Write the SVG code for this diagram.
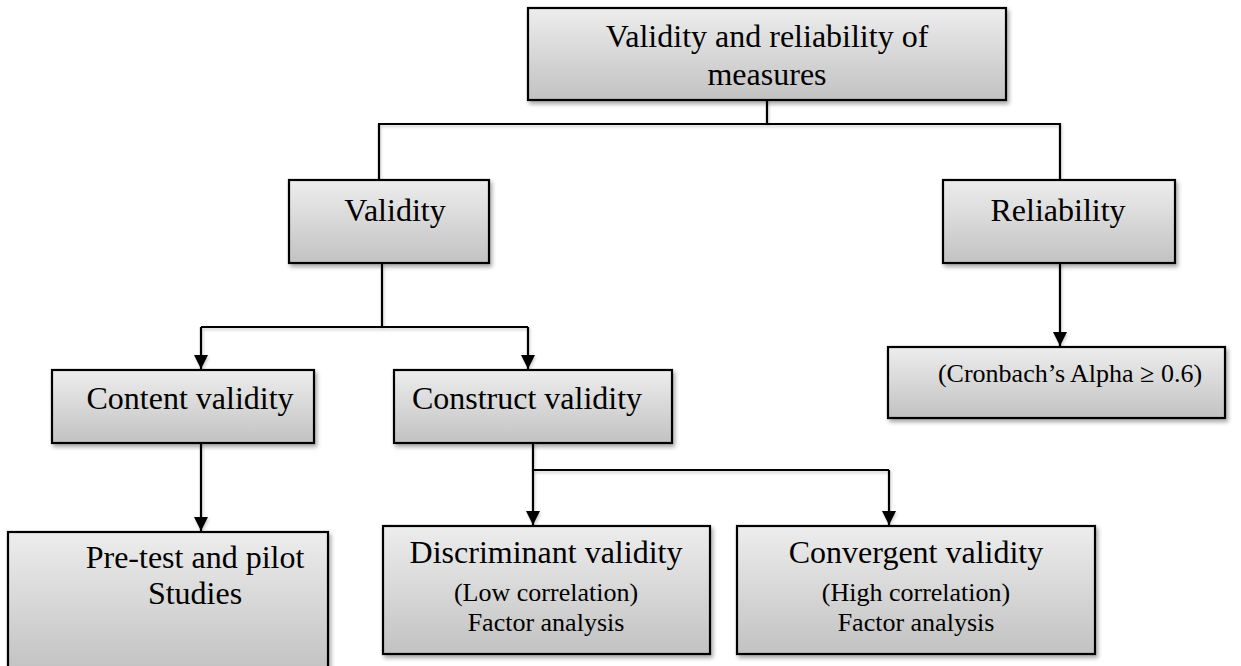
<svg xmlns="http://www.w3.org/2000/svg" width="1241" height="666" viewBox="0 0 1241 666">
  <defs>
    <linearGradient id="boxFill" x1="0" y1="0" x2="0" y2="1">
      <stop offset="0" stop-color="#ededed"/>
      <stop offset="1" stop-color="#c2c2c2"/>
    </linearGradient>
    <filter id="shadow" x="-10%" y="-10%" width="125%" height="130%">
      <feDropShadow dx="2" dy="3" stdDeviation="2" flood-color="#000" flood-opacity="0.35"/>
    </filter>
    <!-- user-space region so straight vertical/horizontal lines keep their shadow -->
    <filter id="lineShadow" filterUnits="userSpaceOnUse" x="0" y="0" width="1241" height="666">
      <feDropShadow dx="1" dy="2" stdDeviation="1.5" flood-color="#000" flood-opacity="0.2"/>
    </filter>
    <!-- filled triangle pointing along the path direction -->
    <marker id="arrow" markerUnits="userSpaceOnUse" markerWidth="16" markerHeight="16" viewBox="0 0 16 16" refX="15" refY="8" orient="auto">
      <path d="M1,1 L15,8 L1,15 Z" fill="#000"/>
    </marker>
  </defs>
  <style>
    .box { fill: url(#boxFill); stroke: #000; stroke-width: 2.2; filter: url(#shadow); }
    .t { font-family: "Liberation Serif", "Times New Roman", serif; fill: #000; text-anchor: middle; }
    .big { font-size: 32px; }
    .small { font-size: 26px; }
    .conn { fill: none; stroke: #000; stroke-width: 2.2; filter: url(#lineShadow); }
  </style>
  <rect width="1241" height="666" fill="#fff"/>

  <!-- connectors -->
  <g id="connectors">
    <path class="conn" d="M767,100 V124 M379,180 V124 H1060 V180"/>
    <path class="conn" d="M382,263 V327 M201,327 H528"/>
    <path class="conn" d="M201,327 V369" marker-end="url(#arrow)"/>
    <path class="conn" d="M528,327 V369" marker-end="url(#arrow)"/>
    <path class="conn" d="M1060,263 V346" marker-end="url(#arrow)"/>
    <path class="conn" d="M201,443 V531" marker-end="url(#arrow)"/>
    <path class="conn" d="M533,443 V470 H889"/>
    <path class="conn" d="M533,470 V525" marker-end="url(#arrow)"/>
    <path class="conn" d="M889,470 V525" marker-end="url(#arrow)"/>
  </g>

  <!-- nodes -->
  <g id="root">
    <rect class="box" x="528" y="8" width="478" height="92"/>
    <text class="t big" x="767" y="47">Validity and reliability of</text>
    <text class="t big" x="767" y="85">measures</text>
  </g>
  <g id="validity">
    <rect class="box" x="289" y="180" width="200" height="83"/>
    <text class="t big" x="395" y="221">Validity</text>
  </g>
  <g id="reliability">
    <rect class="box" x="943" y="180" width="232" height="83"/>
    <text class="t big" x="1058" y="221">Reliability</text>
  </g>
  <g id="content-validity">
    <rect class="box" x="52" y="370" width="262" height="73"/>
    <text class="t big" x="190" y="409">Content validity</text>
  </g>
  <g id="construct-validity">
    <rect class="box" x="394" y="370" width="278" height="73"/>
    <text class="t big" x="527" y="409">Construct validity</text>
  </g>
  <g id="cronbach">
    <rect class="box" x="888" y="347" width="337" height="71"/>
    <text class="t small" x="1070" y="382">(Cronbach’s Alpha ≥ 0.6)</text>
  </g>
  <g id="pretest">
    <rect class="box" x="8" y="532" width="320" height="140"/>
    <text class="t big" x="195" y="568">Pre-test and pilot</text>
    <text class="t big" x="195" y="604">Studies</text>
  </g>
  <g id="discriminant">
    <rect class="box" x="383" y="526" width="327" height="128"/>
    <text class="t big" x="546" y="563">Discriminant validity</text>
    <text class="t small" x="546" y="601">(Low correlation)</text>
    <text class="t small" x="546" y="631">Factor analysis</text>
  </g>
  <g id="convergent">
    <rect class="box" x="737" y="526" width="358" height="128"/>
    <text class="t big" x="916" y="563">Convergent validity</text>
    <text class="t small" x="916" y="601">(High correlation)</text>
    <text class="t small" x="916" y="631">Factor analysis</text>
  </g>
</svg>
